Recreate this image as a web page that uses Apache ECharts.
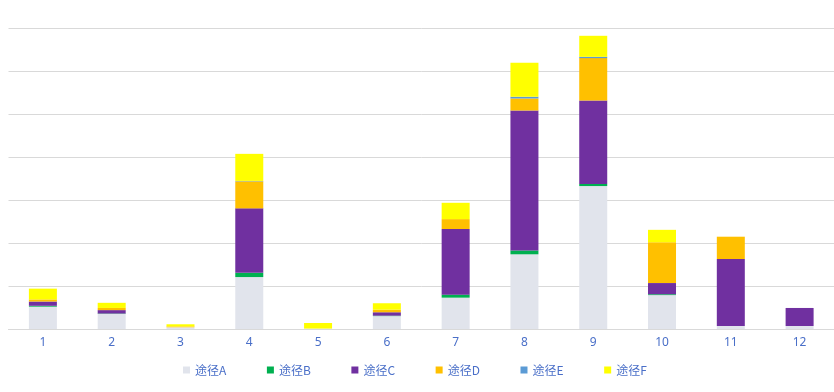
<!DOCTYPE html>
<html>
<head>
<meta charset="utf-8">
<script src="https://cdn.jsdelivr.net/npm/echarts@6/dist/echarts.min.js"></script>
<style>html,body{margin:0;padding:0;background:#fff;}#c{width:834px;height:392px;}</style>
</head>
<body>
<div id="c"></div>
<script>
var categories = ['1','2','3','4','5','6','7','8','9','10','11','12'];
var seriesNames = ['途径A','途径B','途径C','途径D','途径E','途径F'];
var valuesA = [5.2, 3.5, 0.4, 12.1, 0.1, 3.0, 7.3, 17.4, 33.3, 7.9, 0.7, 0.7];
var valuesB = [0.2, 0.1, 0.0, 1.0, 0.0, 0.1, 0.7, 0.9, 0.5, 0.2, 0.0, 0.0];
var valuesC = [1.0, 0.8, 0.0, 15.0, 0.0, 0.8, 15.3, 32.6, 19.4, 2.6, 15.6, 4.2];
var valuesD = [0.5, 0.5, 0.2, 6.3, 0.0, 0.6, 2.3, 2.8, 9.9, 9.5, 5.2, 0.0];
var valuesE = [0.0, 0.0, 0.0, 0.1, 0.0, 0.0, 0.0, 0.4, 0.3, 0.0, 0.0, 0.0];
var valuesF = [2.5, 1.2, 0.5, 6.3, 1.3, 1.5, 3.8, 7.9, 4.9, 2.9, 0.0, 0.0];
var colors = ['#E1E4EC','#00B050','#7030A0','#FFC000','#5B9BD5','#FFFF00'];

var allValues = [valuesA, valuesB, valuesC, valuesD, valuesE, valuesF];
var chart = echarts.init(document.getElementById('c'));
chart.setOption({
  animation: false,
  color: colors,
  grid: {left: 8.5, right: 0, top: 28.5, bottom: 63},
  legend: {
    bottom: 11, left: 178,
    itemWidth: 7, itemHeight: 7, itemGap: 40.6, icon: 'rect',
    textStyle: {color: '#4A6FC8', fontSize: 12, fontFamily: 'Noto Sans CJK SC'},
    data: seriesNames
  },
  xAxis: {
    type: 'category', data: categories,
    axisLine: {lineStyle: {color: '#D9D9D9'}},
    axisTick: {show: false},
    axisLabel: {color: '#4A6FC8', fontSize: 12, margin: 8, fontFamily: 'Noto Sans'}
  },
  yAxis: {
    type: 'value', min: 0, max: 70, interval: 10,
    axisLabel: {show: false}, axisLine: {show: false}, axisTick: {show: false},
    splitLine: {lineStyle: {color: '#D9D9D9'}}
  },
  series: seriesNames.map(function (n, i) {
    return {name: n, type: 'bar', stack: 'all', barWidth: 28, data: allValues[i]};
  })
});
</script>
</body>
</html>
